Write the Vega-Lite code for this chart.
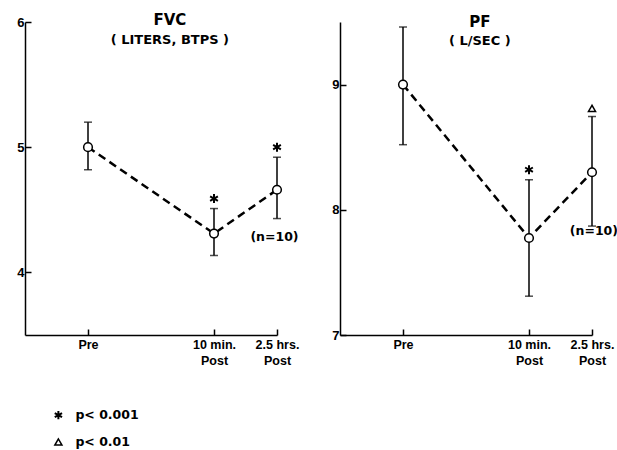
{
  "$schema": "https://vega.github.io/schema/vega-lite/v6.json",
  "padding": {"left": 16, "top": 13, "right": 0, "bottom": 5},
  "background": "white",
  "spacing": 63,
  "bounds": "flush",
  "config": {
    "view": {"stroke": null},
    "font": "DejaVu Sans",
    "axis": {
      "grid": false, "title": null, "domainColor": "black", "domainWidth": 1.5,
      "tickColor": "black", "tickWidth": 1.5, "tickSize": -6, "labelOverlap": false, "labelFlush": false, "format": "d",
      "labelColor": "black", "labelFont": "Liberation Sans", "labelFontWeight": "bold", "labelFontSize": 13
    },
    "axisX": {"labelFontSize": 12.5},
    "text": {"font": "DejaVu Sans", "fontWeight": "bold", "color": "black"}
  },
  "datasets": {
    "pts": [
      {"panel": "FVC", "t": 0, "mean": 5.0, "lo": 4.82, "hi": 5.20},
      {"panel": "FVC", "t": 2, "mean": 4.31, "lo": 4.135, "hi": 4.51},
      {"panel": "FVC", "t": 3, "mean": 4.66, "lo": 4.43, "hi": 4.92},
      {"panel": "PF", "t": 0, "mean": 9.0, "lo": 8.52, "hi": 9.46},
      {"panel": "PF", "t": 2, "mean": 7.775, "lo": 7.31, "hi": 8.24},
      {"panel": "PF", "t": 3, "mean": 8.30, "lo": 7.87, "hi": 8.745}
    ],
    "sig": [
      {"panel": "FVC", "t": 2, "y": 4.59, "kind": "star"},
      {"panel": "FVC", "t": 3, "y": 5.0, "kind": "star"},
      {"panel": "PF", "t": 2, "y": 8.32, "kind": "star"},
      {"panel": "PF", "t": 3, "y": 8.81, "kind": "triangle"}
    ],
    "notes": [
      {"panel": "FVC", "t": 1.30, "y": 6.013, "text": "FVC", "size": 15},
      {"panel": "FVC", "t": 1.30, "y": 5.86, "text": "( LITERS, BTPS )", "size": 13},
      {"panel": "FVC", "t": 2.96, "y": 4.28, "text": "(n=10)", "size": 12.5},
      {"panel": "PF", "t": 1.22, "y": 9.498, "text": "PF", "size": 15},
      {"panel": "PF", "t": 1.22, "y": 9.345, "text": "( L/SEC )", "size": 13},
      {"panel": "PF", "t": 3.03, "y": 7.83, "text": "(n=10)", "size": 12.5}
    ],
    "legend": [
      {"t": -0.47, "y": 2.86, "kind": "star", "text": "p< 0.001"},
      {"t": -0.47, "y": 2.645, "kind": "triangle", "text": "p< 0.01"}
    ]
  },
  "hconcat": [
    {
      "width": 252, "height": 313,
      "layer": [
        {
          "data": {"name": "pts"},
          "transform": [{"filter": "datum.panel == 'FVC'"}],
          "mark": {"type": "rule", "strokeWidth": 1.5, "color": "black"},
          "encoding": {
            "x": {"field": "t", "type": "quantitative", "scale": {"domain": [-1, 3], "nice": false, "zero": false},
                  "axis": {"values": [0, 2, 3], "labelExpr": "datum.value == 0 ? 'Pre' : datum.value == 2 ? ['10 min.', 'Post'] : ['2.5 hrs.', 'Post']", "labelPadding": 9, "labelLineHeight": 16, "labelBaseline": "top"}},
            "y": {"field": "lo", "type": "quantitative", "scale": {"domain": [3.5, 6], "nice": false, "zero": false},
                  "axis": {"values": [4, 5, 6], "labelPadding": 7}},
            "y2": {"field": "hi"}
          }
        },
        {
          "data": {"name": "pts"},
          "transform": [{"filter": "datum.panel == 'FVC'"}],
          "mark": {"type": "tick", "orient": "horizontal", "size": 8, "thickness": 1.5, "color": "black"},
          "encoding": {"x": {"field": "t", "type": "quantitative"}, "y": {"field": "lo", "type": "quantitative"}}
        },
        {
          "data": {"name": "pts"},
          "transform": [{"filter": "datum.panel == 'FVC'"}],
          "mark": {"type": "tick", "orient": "horizontal", "size": 8, "thickness": 1.5, "color": "black"},
          "encoding": {"x": {"field": "t", "type": "quantitative"}, "y": {"field": "hi", "type": "quantitative"}}
        },
        {
          "data": {"name": "pts"},
          "transform": [{"filter": "datum.panel == 'FVC'"}],
          "mark": {"type": "line", "strokeDash": [8, 5], "strokeWidth": 2.5, "color": "black"},
          "encoding": {"x": {"field": "t", "type": "quantitative"}, "y": {"field": "mean", "type": "quantitative"}}
        },
        {
          "data": {"name": "pts"},
          "transform": [{"filter": "datum.panel == 'FVC'"}],
          "mark": {"type": "point", "shape": "circle", "filled": true, "fill": "white", "stroke": "black", "strokeWidth": 1.5, "size": 75, "opacity": 1},
          "encoding": {"x": {"field": "t", "type": "quantitative"}, "y": {"field": "mean", "type": "quantitative"}}
        },
        {
          "data": {"name": "sig"},
          "transform": [{"filter": "datum.panel == 'FVC' && datum.kind == 'star'"}],
          "mark": {"type": "point", "shape": "M0,-1L0,1M-0.87,-0.5L0.87,0.5M-0.87,0.5L0.87,-0.5", "filled": false, "stroke": "black", "strokeWidth": 2, "size": 80, "opacity": 1},
          "encoding": {"x": {"field": "t", "type": "quantitative"}, "y": {"field": "y", "type": "quantitative"}}
        },
        {
          "data": {"name": "notes"},
          "transform": [{"filter": "datum.panel == 'FVC'"}],
          "mark": {"type": "text", "align": "center", "baseline": "middle"},
          "encoding": {"x": {"field": "t", "type": "quantitative"}, "y": {"field": "y", "type": "quantitative"}, "text": {"field": "text"}, "size": {"field": "size", "type": "quantitative", "scale": null}}
        },
        {
          "data": {"name": "legend"},
          "transform": [{"filter": "datum.kind == 'star'"}],
          "mark": {"type": "point", "shape": "M0,-1L0,1M-0.87,-0.5L0.87,0.5M-0.87,0.5L0.87,-0.5", "filled": false, "stroke": "black", "strokeWidth": 2, "size": 70, "opacity": 1},
          "encoding": {"x": {"field": "t", "type": "quantitative"}, "y": {"field": "y", "type": "quantitative"}}
        },
        {
          "data": {"name": "legend"},
          "transform": [{"filter": "datum.kind == 'triangle'"}],
          "mark": {"type": "point", "shape": "triangle-up", "filled": false, "stroke": "black", "strokeWidth": 1.5, "size": 50, "opacity": 1},
          "encoding": {"x": {"field": "t", "type": "quantitative"}, "y": {"field": "y", "type": "quantitative"}}
        },
        {
          "data": {"name": "legend"},
          "mark": {"type": "text", "align": "left", "baseline": "middle", "fontSize": 12.5, "dx": 0},
          "encoding": {"x": {"datum": -0.2, "type": "quantitative"}, "y": {"field": "y", "type": "quantitative"}, "text": {"field": "text"}}
        }
      ]
    },
    {
      "width": 252, "height": 313,
      "layer": [
        {
          "data": {"name": "pts"},
          "transform": [{"filter": "datum.panel == 'PF'"}],
          "mark": {"type": "rule", "strokeWidth": 1.5, "color": "black"},
          "encoding": {
            "x": {"field": "t", "type": "quantitative", "scale": {"domain": [-1, 3], "nice": false, "zero": false},
                  "axis": {"values": [0, 2, 3], "labelExpr": "datum.value == 0 ? 'Pre' : datum.value == 2 ? ['10 min.', 'Post'] : ['2.5 hrs.', 'Post']", "labelPadding": 9, "labelLineHeight": 16, "labelBaseline": "top"}},
            "y": {"field": "lo", "type": "quantitative", "scale": {"domain": [7, 9.5], "nice": false, "zero": false},
                  "axis": {"values": [7, 8, 9], "labelPadding": 7}},
            "y2": {"field": "hi"}
          }
        },
        {
          "data": {"name": "pts"},
          "transform": [{"filter": "datum.panel == 'PF'"}],
          "mark": {"type": "tick", "orient": "horizontal", "size": 8, "thickness": 1.5, "color": "black"},
          "encoding": {"x": {"field": "t", "type": "quantitative"}, "y": {"field": "lo", "type": "quantitative"}}
        },
        {
          "data": {"name": "pts"},
          "transform": [{"filter": "datum.panel == 'PF'"}],
          "mark": {"type": "tick", "orient": "horizontal", "size": 8, "thickness": 1.5, "color": "black"},
          "encoding": {"x": {"field": "t", "type": "quantitative"}, "y": {"field": "hi", "type": "quantitative"}}
        },
        {
          "data": {"name": "pts"},
          "transform": [{"filter": "datum.panel == 'PF'"}],
          "mark": {"type": "line", "strokeDash": [8, 5], "strokeWidth": 2.5, "color": "black"},
          "encoding": {"x": {"field": "t", "type": "quantitative"}, "y": {"field": "mean", "type": "quantitative"}}
        },
        {
          "data": {"name": "pts"},
          "transform": [{"filter": "datum.panel == 'PF'"}],
          "mark": {"type": "point", "shape": "circle", "filled": true, "fill": "white", "stroke": "black", "strokeWidth": 1.5, "size": 75, "opacity": 1},
          "encoding": {"x": {"field": "t", "type": "quantitative"}, "y": {"field": "mean", "type": "quantitative"}}
        },
        {
          "data": {"name": "sig"},
          "transform": [{"filter": "datum.panel == 'PF' && datum.kind == 'star'"}],
          "mark": {"type": "point", "shape": "M0,-1L0,1M-0.87,-0.5L0.87,0.5M-0.87,0.5L0.87,-0.5", "filled": false, "stroke": "black", "strokeWidth": 2, "size": 80, "opacity": 1},
          "encoding": {"x": {"field": "t", "type": "quantitative"}, "y": {"field": "y", "type": "quantitative"}}
        },
        {
          "data": {"name": "sig"},
          "transform": [{"filter": "datum.panel == 'PF' && datum.kind == 'triangle'"}],
          "mark": {"type": "point", "shape": "triangle-up", "filled": false, "stroke": "black", "strokeWidth": 1.5, "size": 50, "opacity": 1},
          "encoding": {"x": {"field": "t", "type": "quantitative"}, "y": {"field": "y", "type": "quantitative"}}
        },
        {
          "data": {"name": "notes"},
          "transform": [{"filter": "datum.panel == 'PF'"}],
          "mark": {"type": "text", "align": "center", "baseline": "middle"},
          "encoding": {"x": {"field": "t", "type": "quantitative"}, "y": {"field": "y", "type": "quantitative"}, "text": {"field": "text"}, "size": {"field": "size", "type": "quantitative", "scale": null}}
        }
      ]
    }
  ]
}
